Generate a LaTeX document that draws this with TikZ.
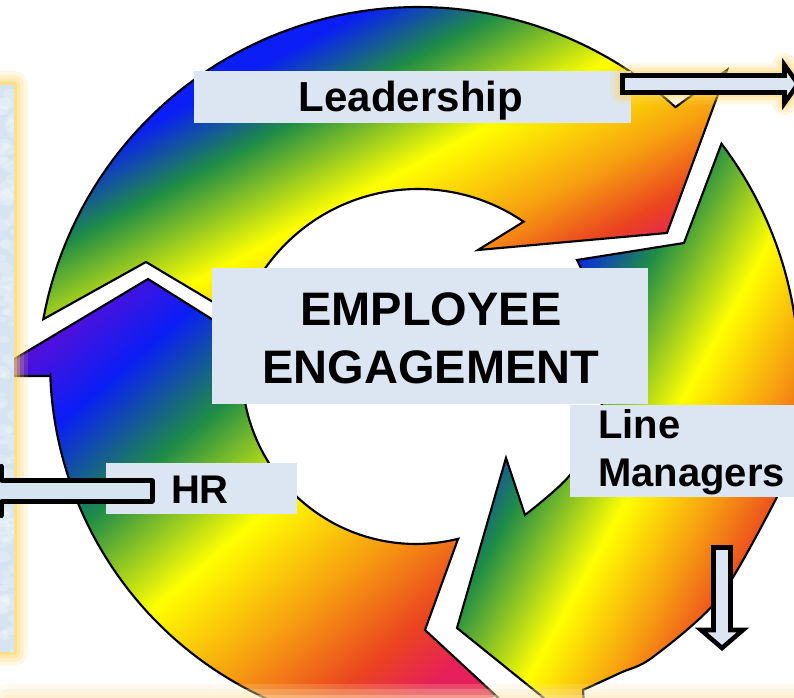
\documentclass[tikz,border=0pt]{standalone}
\usepackage{fontspec}
\setmainfont{Liberation Sans}
\usetikzlibrary{calc}

% palette
\definecolor{rbPurple}{HTML}{5010DC}
\definecolor{rbBlue}{HTML}{0A1EF5}
\definecolor{rbGreen}{HTML}{1E8C46}
\definecolor{rbYellow}{HTML}{FFFF00}
\definecolor{rbOrange}{HTML}{F7A010}
\definecolor{rbRed}{HTML}{EB4420}
\definecolor{rbCrimson}{HTML}{E6205A}
\definecolor{labelfill}{HTML}{DCE6F2}
\definecolor{panelfill}{HTML}{D6E4F2}
\definecolor{glowyellow}{HTML}{FFD35C}
\definecolor{cream}{HTML}{FDE8B0}

% rainbow bands for the three ring segments
\pgfdeclarehorizontalshading{ringA}{100bp}{color(0bp)=(rbBlue); color(33bp)=(rbBlue); color(39.5bp)=(rbGreen); color(49bp)=(rbYellow); color(58bp)=(rbOrange); color(64bp)=(rbRed); color(68bp)=(rbCrimson); color(100bp)=(rbCrimson)}
\pgfdeclarehorizontalshading{ringB}{100bp}{color(0bp)=(rbBlue); color(33.3bp)=(rbBlue); color(41.1bp)=(rbGreen); color(51.7bp)=(rbYellow); color(60bp)=(rbOrange); color(67.2bp)=(rbRed); color(100bp)=(rbRed)}
\pgfdeclarehorizontalshading{ringC}{100bp}{color(0bp)=(rbPurple); color(28.2bp)=(rbPurple); color(34bp)=(rbBlue); color(41.7bp)=(rbGreen); color(50.8bp)=(rbYellow); color(59bp)=(rbOrange); color(66.2bp)=(rbRed); color(70.8bp)=(rbCrimson); color(100bp)=(rbCrimson)}

% outlines of the three curved arrows (pixel grid, y downwards, angles clockwise)
\newcommand\ringOnePath{plot[domain=190.4:312.5, samples=70, variable=\t] ({418+381*cos(\t)},{388+381*sin(\t)}) -- (727,70) -- (667,233) -- (478,250) -- plot[domain=198:304.4, samples=50, variable=\t] ({418+187*cos(502.4-\t)},{376+187*sin(502.4-\t)}) -- (146,262) -- cycle}
\newcommand\ringTwoPath{plot[domain=322.8:370, samples=50, variable=\t] ({418+381*cos(\t)},{374+381*sin(\t)}) -- plot[smooth] coordinates {(777,497) (720,597) (653,657) (620,673) (583,690)} -- (586,732) -- (457,628) -- (506,458) -- (525,515) -- plot[smooth] coordinates {(525,515) (570,475) (598,420) (606,360) (597,305) (577,260)} -- (684,243) -- cycle}
\newcommand\ringThreePath{(520,718) -- (425,630) -- (458,539) -- plot[domain=76:191, samples=50, variable=\t] ({416+174*cos(\t)},{370+174*sin(\t)}) -- (280,362) -- (148,279) -- (-14,376) -- (50,376) -- plot[domain=74.3:177.9, samples=70, variable=\t] ({420+370*cos(252.2-\t)},{362+370*sin(252.2-\t)}) -- cycle}

\tikzset{
  ringline/.style={draw=black, line width=1.6pt, line join=miter},
  blockarrow/.style={fill=labelfill, draw=black, line width=3.4pt, line join=miter},
  caption/.style={inner sep=0pt, anchor=base, text=black},
}

\begin{document}
\begin{tikzpicture}[x=0.75pt, y=-0.75pt]
\useasboundingbox (0,0) rectangle (794,698);
\fill[white] (0,0) rectangle (794,698);

% top segment
\begin{scope}
  \clip \ringOnePath;
  \begin{scope}[transform canvas={rotate=-62}]
    \shade[shading=ringA] (100,-2000) rectangle (600,2000);
  \end{scope}
\end{scope}
\path[ringline] \ringOnePath;

% right segment
\begin{scope}
  \clip \ringTwoPath;
  \begin{scope}[transform canvas={rotate=-29}]
    \shade[shading=ringB] (550,-2000) rectangle (1000,2000);
  \end{scope}
\end{scope}
\path[ringline] \ringTwoPath;

% left / bottom segment
\begin{scope}
  \clip \ringThreePath;
  \begin{scope}[transform canvas={rotate=-49}]
    \shade[shading=ringC] (250,-2000) rectangle (850,2000);
  \end{scope}
\end{scope}
\path[ringline] \ringThreePath;

% side panel with soft glow and a mottled surface
\foreach \w/\o in {21pt/0.15, 15pt/0.2, 9pt/0.3, 4pt/0.4}
  \draw[glowyellow, line width=\w, opacity=\o, line join=round] (-20,85) rectangle (14,652);
\fill[panelfill] (-20,85) rectangle (14,652);
\begin{scope}
  \clip (-20,85) rectangle (14,652);
  \pgfmathsetseed{7}
  \foreach \i in {1,...,110}{
    \pgfmathsetmacro\bx{rnd*16}
    \pgfmathsetmacro\by{85+rnd*567}
    \pgfmathsetmacro\br{3+rnd*6}
    \fill[white, opacity=0.2] (\bx,\by) ellipse[x radius=\br, y radius=0.7*\br];
  }
\end{scope}

% label panels
\fill[labelfill] (194,71) rectangle (631,123);
\fill[labelfill] (212,268) rectangle (648,404);
\fill[labelfill] (570,405) rectangle (800,497);
\fill[labelfill] (106,463) rectangle (297,514);

% block arrow to the right, with glow
\newcommand\rightArrowPath{(622.5,75.5) -- (784.5,75.5) -- (784.5,65) -- (798,84) -- (784.5,103) -- (784.5,92.5) -- (622.5,92.5) -- cycle}
\foreach \w/\o in {18pt/0.18, 12pt/0.25, 7pt/0.35}
  \draw[glowyellow, line width=\w, opacity=\o, line join=round] \rightArrowPath;
\path[blockarrow] \rightArrowPath;

% block arrow downwards
\path[blockarrow] (713.5,547.5) -- (730.5,547.5) -- (730.5,630) -- (743,630) -- (722,648) -- (701,630) -- (713.5,630) -- cycle;

% block arrow to the left
\path[blockarrow, fill=panelfill, line join=round] (152.5,480.5) -- (152.5,501.5) -- (1.5,501.5) -- (1.5,516) -- (-22,491) -- (1.5,466) -- (1.5,480.5) -- cycle;

% captions
\node[caption, font=\fontsize{31.5pt}{36pt}\selectfont\bfseries] (leadText) at (411,112) {Leadership};
\node[caption, font=\fontsize{35.25pt}{40pt}\selectfont\bfseries] (empTop) at (431,326) {EMPLOYEE};
\node[caption, font=\fontsize{35.25pt}{40pt}\selectfont\bfseries] (empBottom) at (431,384) {ENGAGEMENT};
\node[caption, anchor=base west, font=\fontsize{30pt}{36pt}\selectfont\bfseries] (lmTop) at (598,439) {Line};
\node[caption, anchor=base west, font=\fontsize{30pt}{36pt}\selectfont\bfseries] (lmBottom) at (598,487) {Managers};
\node[caption, font=\fontsize{30pt}{36pt}\selectfont\bfseries] (hrText) at (200,504) {HR};

% glowing edge of the lower panel
\foreach \w/\o in {24pt/0.2, 16pt/0.25, 8pt/0.35}
  \draw[cream, line width=\w, opacity=\o, line join=round] (8,700) rectangle (830,800);
\fill[cream] (8,700) rectangle (830,800);
\end{tikzpicture}
\end{document}
